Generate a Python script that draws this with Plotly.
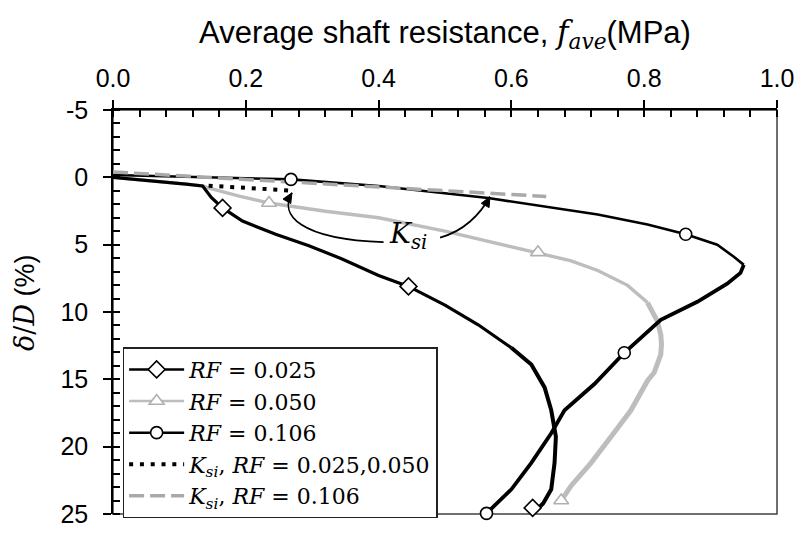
import plotly.graph_objects as go

# Average shaft resistance f_ave (MPa) vs normalised displacement delta/D (%)
rf025_f = [0.0, 0.03, 0.07, 0.11, 0.135, 0.14, 0.148, 0.165, 0.195, 0.245, 0.295,
           0.345, 0.4, 0.445, 0.5, 0.55, 0.6, 0.63, 0.65, 0.66, 0.667, 0.665, 0.66,
           0.648, 0.638]
rf025_d = [0.0, 0.12, 0.32, 0.5, 0.64, 1.0, 1.5, 2.27, 3.25, 4.23, 5.08,
           6.06, 7.29, 8.1, 9.49, 10.95, 12.66, 13.9, 15.6, 17.3, 19.26, 21.2, 23.17,
           24.2, 24.7]

rf050_f = [0.0, 0.03, 0.07, 0.11, 0.135, 0.145, 0.19, 0.235, 0.32, 0.4, 0.5, 0.58,
           0.64, 0.69, 0.73, 0.775, 0.805, 0.82, 0.825, 0.826, 0.825, 0.815, 0.805,
           0.78, 0.75, 0.72, 0.69, 0.675]
rf050_d = [0.0, 0.12, 0.32, 0.5, 0.64, 0.81, 1.4, 1.91, 2.52, 3.0, 3.99, 4.9,
           5.57, 6.2, 6.92, 8.02, 9.3, 10.7, 11.68, 12.4, 13.15, 14.5, 15.1,
           17.3, 19.26, 21.2, 22.9, 24.0]

rf106_f = [0.0, 0.1, 0.2, 0.268, 0.4, 0.565, 0.73, 0.805, 0.8625, 0.91, 0.935,
           0.95, 0.945, 0.925, 0.88, 0.825, 0.77, 0.725, 0.68, 0.66, 0.63, 0.6, 0.5625]
rf106_d = [-0.17, -0.05, 0.05, 0.15, 0.64, 1.54, 2.76, 3.5, 4.23, 5.0, 5.9,
           6.5, 7.1, 7.9, 9.24, 10.58, 13.03, 15.35, 17.3, 19.0, 21.2, 23.17, 24.95]

# marker positions along each curve
rf025_mk_f = [0.165, 0.445, 0.632]
rf025_mk_d = [2.27, 8.1, 24.55]
rf050_mk_f = [0.235, 0.64, 0.675]
rf050_mk_d = [1.91, 5.57, 24.0]
rf106_mk_f = [0.268, 0.8625, 0.77, 0.5625]
rf106_mk_d = [0.15, 4.23, 13.03, 24.95]

# initial stiffness K_si lines
ksi_low_f = [0.144, 0.274]
ksi_low_d = [0.62, 1.0]
ksi_106_f = [0.0, 0.6525]
ksi_106_d = [-0.4, 1.42]

x_tick_vals = [0.0, 0.2, 0.4, 0.6, 0.8, 1.0]
x_tick_text = ["0.0", "0.2", "0.4", "0.6", "0.8", "1.0"]
y_tick_vals = [-5, 0, 5, 10, 15, 20, 25]
y_tick_text = ["-5", "0", "5", "10", "15", "20", "25"]

X_RANGE = [0, 1]
Y_RANGE = [25, -5]
W, H = 806, 540
M_L, M_R, M_T, M_B = 113, 26, 110, 21
PX_PER_X = (W - M_L - M_R) / (X_RANGE[1] - X_RANGE[0])
PX_PER_Y = (H - M_T - M_B) / (Y_RANGE[0] - Y_RANGE[1])

BLACK = "#000000"
GREY = "#bdbdbd"
GREY_DASH = "#a9a9a9"
SERIF = "DejaVu Serif"
SANS = "Liberation Sans"

fig = go.Figure()


def add_curve(f, d, split_d, color, w_upper, w_lower):
    """Draw a curve, with the post-peak (noisier) part drawn heavier."""
    k = next(i for i, v in enumerate(d) if v >= split_d)
    fig.add_trace(go.Scatter(x=f[:k + 1], y=d[:k + 1], mode="lines",
                             line=dict(color=color, width=w_upper), showlegend=False))
    fig.add_trace(go.Scatter(x=f[k:], y=d[k:], mode="lines",
                             line=dict(color=color, width=w_lower), showlegend=False))


add_curve(rf050_f, rf050_d, 9.3, GREY, 3.4, 5.0)
add_curve(rf025_f, rf025_d, 12.6, BLACK, 3.2, 4.0)
add_curve(rf106_f, rf106_d, 6.5, BLACK, 2.6, 3.8)

fig.add_trace(go.Scatter(x=ksi_106_f, y=ksi_106_d, mode="lines",
                         line=dict(color=GREY_DASH, width=3.5, dash="15px,6px"),
                         showlegend=False))
fig.add_trace(go.Scatter(x=ksi_low_f, y=ksi_low_d, mode="lines",
                         line=dict(color=BLACK, width=4, dash="4px,6.8px"),
                         showlegend=False))

# markers
fig.add_trace(go.Scatter(x=rf025_mk_f, y=rf025_mk_d, mode="markers", cliponaxis=False,
                         marker=dict(symbol="diamond", size=13, color="white",
                                     line=dict(color=BLACK, width=1.6)),
                         showlegend=False))
fig.add_trace(go.Scatter(x=rf050_mk_f, y=rf050_mk_d, mode="markers", cliponaxis=False,
                         marker=dict(symbol="triangle-up", size=13, color="white",
                                     line=dict(color="#b0b0b0", width=1.6)),
                         showlegend=False))
fig.add_trace(go.Scatter(x=rf106_mk_f, y=rf106_mk_d, mode="markers", cliponaxis=False,
                         marker=dict(symbol="circle", size=12, color="white",
                                     line=dict(color=BLACK, width=1.6)),
                         showlegend=False))

# legend entries
legend_items = [
    ("<i>RF</i> = 0.025", dict(color=BLACK, width=2.5), dict(symbol="diamond", size=13, color="white", line=dict(color=BLACK, width=1.6)), "lines+markers"),
    ("<i>RF</i> = 0.050", dict(color=GREY, width=2.5), dict(symbol="triangle-up", size=13, color="white", line=dict(color="#b0b0b0", width=1.6)), "lines+markers"),
    ("<i>RF</i> = 0.106", dict(color=BLACK, width=2.5), dict(symbol="circle", size=12, color="white", line=dict(color=BLACK, width=1.6)), "lines+markers"),
    ("<i>K</i><sub><i>si</i></sub>, <i>RF</i> = 0.025,0.050", dict(color=BLACK, width=4, dash="4px,6.8px"), None, "lines"),
    ("<i>K</i><sub><i>si</i></sub>, <i>RF</i> = 0.106", dict(color=GREY_DASH, width=3.5, dash="15px,6px"), None, "lines"),
]
for i, (name, ln, mk, mode) in enumerate(legend_items):
    kw = dict(x=[None], y=[None], mode=mode, name=name, line=ln,
              legendgroup=f"g{i}", showlegend=True)
    if mk is not None:
        kw["marker"] = mk
    fig.add_trace(go.Scatter(**kw))

# curved arrows from the K_si label to the two stiffness lines (cubic Bezier, data coords)
arrow_paths = [
    [(0.4075, 4.817), (0.280, 4.597), (0.250, 2.764), (0.2695, 1.151)],
    [(0.4926, 4.472), (0.5276, 4.010), (0.5530, 2.764), (0.5676, 1.444)],
]


def arrowhead(p_from, p_tip, length=10, half_w=4.5):
    """Filled triangular head at p_tip, oriented along p_from -> p_tip (in pixel space)."""
    ux = (p_tip[0] - p_from[0]) * PX_PER_X
    uy = (p_tip[1] - p_from[1]) * PX_PER_Y
    n = (ux ** 2 + uy ** 2) ** 0.5
    ux, uy = ux / n, uy / n
    bx, by = -length * ux, -length * uy
    c1 = (bx - half_w * uy, by + half_w * ux)
    c2 = (bx + half_w * uy, by - half_w * ux)
    pts = [(0, 0), c1, c2]
    pts = [(p_tip[0] + a / PX_PER_X, p_tip[1] + b / PX_PER_Y) for a, b in pts]
    return "M {},{} L {},{} L {},{} Z".format(*[v for pt in pts for v in pt])


shapes = []
for p in arrow_paths:
    path = "M {},{} C {},{} {},{} {},{}".format(*[v for pt in p for v in pt])
    shapes.append(dict(type="path", path=path, xref="x", yref="y",
                       line=dict(color=BLACK, width=1.7)))
    shapes.append(dict(type="path", path=arrowhead(p[2], p[3]), xref="x", yref="y",
                       fillcolor=BLACK, line=dict(color=BLACK, width=1)))

annotations = [
    dict(x=0.445, y=4.3, xref="x", yref="y", showarrow=False,
         text="<i>K</i><sub><i>si</i></sub>",
         font=dict(family=SERIF, size=28, color=BLACK)),
    # y-axis title
    dict(x=-0.16, y=0.523, xref="paper", yref="paper", showarrow=False,
         textangle=-90,
         text=f"<i>δ</i>/<i>D</i><span style='font-family:{SANS}'> (%)</span>",
         font=dict(family=SERIF, size=27, color=BLACK)),
]

# plot-area frame (bottom and right edges)
shapes.append(dict(type="rect", xref="paper", yref="paper", x0=0, x1=1, y0=0, y1=1,
                   line=dict(color="#404040", width=1.5), layer="below"))

fig.update_layout(
    width=W, height=H,
    margin=dict(l=M_L, r=M_R, t=M_T, b=M_B),
    paper_bgcolor="white", plot_bgcolor="white",
    title=dict(text=f"Average shaft resistance, <span style='font-family:{SERIF}'><i>f</i><sub><i>ave</i></sub></span>(MPa)",
               x=0.5, xref="paper", y=1 - 32 / 540, yanchor="middle", xanchor="center",
               font=dict(family=SANS, size=31, color=BLACK)),
    shapes=shapes,
    annotations=annotations,
    showlegend=True,
    legend=dict(x=0.0145, y=0.413, xanchor="left", yanchor="top",
                bgcolor="white", bordercolor="#222222", borderwidth=1.5,
                font=dict(family=SERIF, size=22, color=BLACK),
                tracegroupgap=0, traceorder="grouped", itemwidth=55),
)

fig.update_xaxes(
    side="top", range=X_RANGE, showgrid=False, zeroline=False,
    tickmode="array", tickvals=x_tick_vals, ticktext=x_tick_text,
    ticks="outside", ticklen=8, tickwidth=1.5, tickcolor=BLACK,
    showline=True, linecolor=BLACK, linewidth=1.5,
    tickfont=dict(family=SANS, size=25, color=BLACK), ticklabelstandoff=3,
    minor=dict(dtick=0.04, ticks="inside", ticklen=7, tickwidth=1.5, tickcolor=BLACK),
)
fig.update_yaxes(
    range=Y_RANGE, showgrid=False, zeroline=False,
    tickmode="array", tickvals=y_tick_vals, ticktext=y_tick_text,
    ticks="outside", ticklen=8, tickwidth=1.5, tickcolor=BLACK,
    showline=True, linecolor=BLACK, linewidth=1.5,
    tickfont=dict(family=SANS, size=25, color=BLACK), ticklabelstandoff=10,
    minor=dict(dtick=1, ticks="inside", ticklen=7, tickwidth=1.5, tickcolor=BLACK),
)

fig.write_html("out.html")
